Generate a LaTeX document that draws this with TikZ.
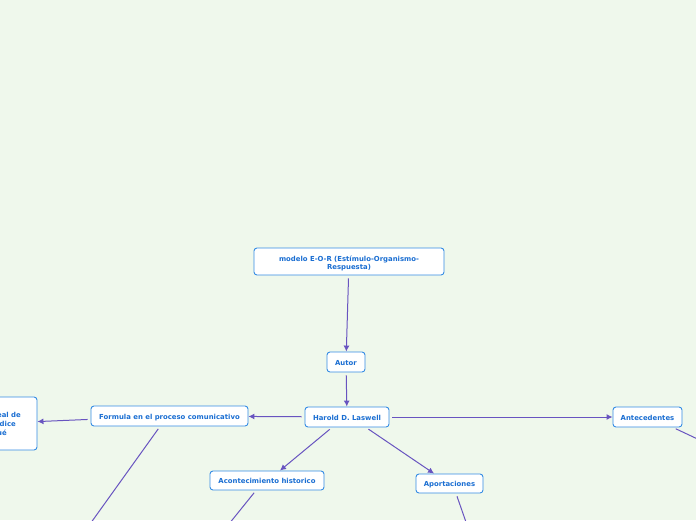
\documentclass[tikz,border=0pt]{standalone}
\usepackage{fontspec}
\setmainfont{DejaVu Sans}
\usetikzlibrary{arrows.meta}
\definecolor{bgc}{RGB}{239,248,236}
\definecolor{bordc}{RGB}{52,140,228}
\definecolor{txtc}{RGB}{26,110,210}
\definecolor{edgec}{RGB}{104,84,192}
\tikzset{
  topicbase/.style={draw=bordc, line width=0.9pt, rounded corners=3pt, fill=white,
    text=txtc, font=\fontsize{6.9}{8}\selectfont\bfseries, align=center,
    inner sep=0pt},
  topic/.style={topicbase, text height=6pt, text depth=0pt},
  linetext/.style={text=txtc, font=\fontsize{6.9}{8}\selectfont\bfseries, anchor=base east, inner sep=0pt},
  conn/.style={draw=edgec, line width=1pt, -{Latex[length=6pt,width=6pt]}, shorten <=3pt},
  plain/.style={draw=edgec, line width=1pt, shorten <=3pt},
}
\begin{document}
\begin{tikzpicture}[x=1pt,y=-1pt]
\useasboundingbox (0,0) rectangle (696,520);
\clip (0,0) rectangle (696,520);
\fill[bgc] (0,0) rectangle (696,520);

\node[topicbase, minimum width=190pt, minimum height=27pt] (modelo) at (349,261.5)
  {\rule{0pt}{9pt}modelo E-O-R (Estímulo-Organismo-\\Respuesta)};
\node[topic, minimum width=38pt, minimum height=20pt] (autor) at (346,362) {Autor};
\node[topic, minimum width=84pt, minimum height=20pt] (harold) at (347,417) {Harold D. Laswell};
\node[topic, minimum width=157pt, minimum height=20pt] (formula) at (169.5,416) {Formula en el proceso comunicativo};
\node[topic, minimum width=69pt, minimum height=20pt] (antec) at (647.5,417) {Antecedentes};
\node[topic, minimum width=114pt, minimum height=19pt] (acont) at (267,480.5) {Acontecimiento historico};
\node[topic, minimum width=67pt, minimum height=19pt] (aport) at (449.5,483.5) {Aportaciones};
\node[topic, minimum width=90pt, minimum height=53pt] (lineal) at (-8,423.5) {};
\node[linetext] (l1) at (21,417.5) {lineal de};
\node[linetext] (l2) at (16,426) {dice};
\node[linetext] (l3) at (7,435) {qué};

% attachment points on node borders
\coordinate (hsA) at ([xshift=-15pt]harold.south);
\coordinate (hsB) at ([xshift=19pt]harold.south);
\coordinate (acN) at ([xshift=13pt]acont.north);
\coordinate (apN) at ([xshift=-15.5pt]aport.north);
\coordinate (foS) at ([xshift=-9.5pt]formula.south);
\coordinate (acS) at ([xshift=-11pt]acont.south);
\coordinate (apS) at ([xshift=6.5pt]aport.south);
\coordinate (anS) at ([xshift=25.5pt]antec.south);
% free ends beyond the frame
\coordinate (f1) at (75,545);
\coordinate (a1) at (212,545);
\coordinate (p1) at (474,545);
\coordinate (n1) at (740,459);

\draw[conn] (modelo) -- (autor);
\draw[conn] (autor) -- (harold);
\draw[conn] (harold) -- (formula);
\draw[conn] (formula) -- (lineal);
\draw[conn] (harold) -- (antec);
\draw[conn] (hsA) -- (acN);
\draw[conn] (hsB) -- (apN);
\draw[plain] (foS) -- (f1);
\draw[plain] (acS) -- (a1);
\draw[plain] (apS) -- (p1);
\draw[plain] (anS) -- (n1);
\end{tikzpicture}
\end{document}
